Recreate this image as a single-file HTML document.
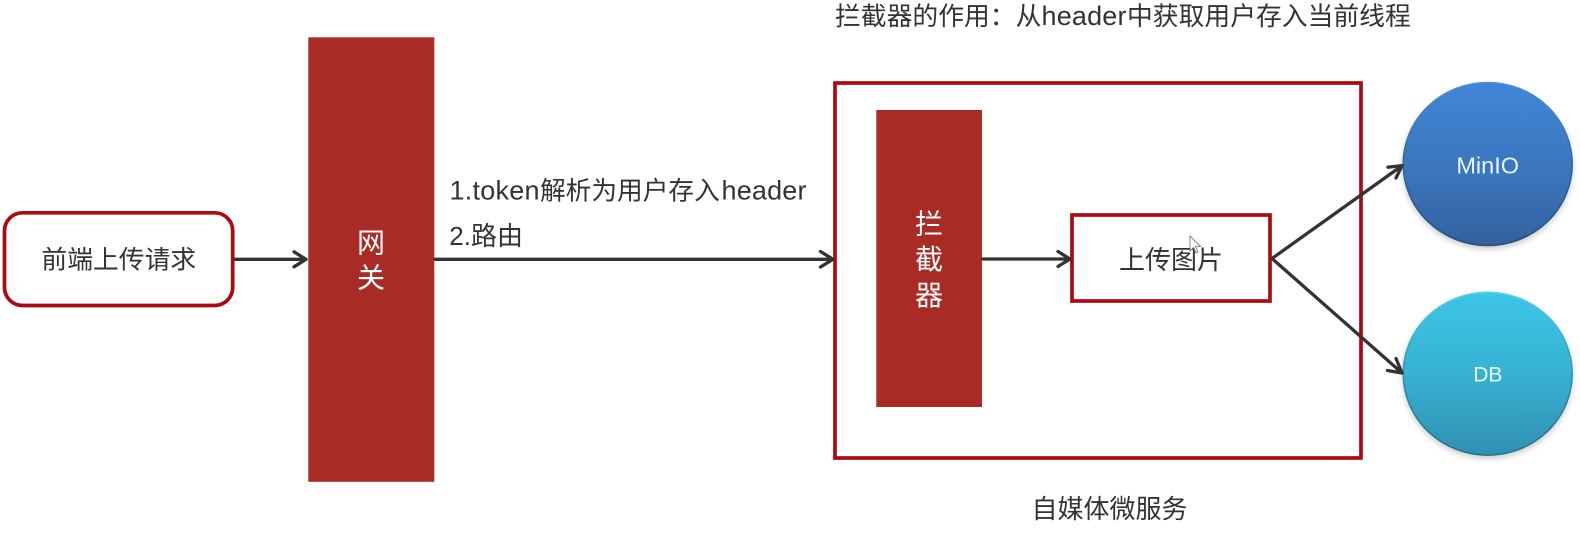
<!DOCTYPE html>
<html><head><meta charset="utf-8">
<style>
html,body{margin:0;padding:0;background:#fff;width:1580px;height:533px;overflow:hidden}
text{font-family:"Liberation Sans","Noto Sans CJK SC",sans-serif;fill:#333}
.w{fill:#fff}
</style></head>
<body>
<svg width="1580" height="533" viewBox="0 0 1580 533" xmlns="http://www.w3.org/2000/svg" style="display:block">
<defs>
<linearGradient id="b" x1="0" y1="0" x2="0" y2="1"><stop offset="0" stop-color="#4186d8"/><stop offset="0.5" stop-color="#3b77bf"/><stop offset="1" stop-color="#33619f"/></linearGradient>
<linearGradient id="c" x1="0" y1="0" x2="0" y2="1"><stop offset="0" stop-color="#3cc5e6"/><stop offset="0.5" stop-color="#37b2d2"/><stop offset="1" stop-color="#2f90b2"/></linearGradient>
<linearGradient id="be" x1="0" y1="0" x2="0" y2="1"><stop offset="0" stop-color="#4f8fd6"/><stop offset="0.5" stop-color="#2f5f9c"/><stop offset="1" stop-color="#254d80"/></linearGradient>
<linearGradient id="ce" x1="0" y1="0" x2="0" y2="1"><stop offset="0" stop-color="#55d4ec"/><stop offset="0.5" stop-color="#2a8fae"/><stop offset="1" stop-color="#24708c"/></linearGradient>
<filter id="s" x="-20%" y="-20%" width="140%" height="140%"><feDropShadow dx="0" dy="3" stdDeviation="3" flood-color="#000" flood-opacity="0.2"/></filter>
</defs>

<rect x="4.500" y="212.800" width="228.200" height="92.700" rx="18" fill="#fff" stroke="#ab0a12" stroke-width="3.700"/>
<text x="118.800" y="268.500" font-size="25.800" text-anchor="middle">前端上传请求</text>

<rect x="308.300" y="37.300" width="126" height="444.500" fill="#a92b25"/>
<text x="371" y="252.500" font-size="28" text-anchor="middle" class="w">网</text>
<text x="371" y="287.500" font-size="28" text-anchor="middle" class="w">关</text>

<text x="449.500" y="199.500" font-size="27" textLength="90" lengthAdjust="spacing">1.token</text>
<text x="540" y="199.500" font-size="25.700">解析为用户存入</text>
<text x="721.500" y="199.500" font-size="27" textLength="85" lengthAdjust="spacing">header</text>
<text x="449.300" y="245" font-size="26">2.路由</text>

<text x="835" y="25" font-size="25.800">拦截器的作用：从</text>
<text x="1041.500" y="25" font-size="27" textLength="85" lengthAdjust="spacing">header</text>
<text x="1127" y="25" font-size="25.800">中获取用户存入当前线程</text>

<rect x="835" y="83" width="526" height="375" fill="none" stroke="#ab0a12" stroke-width="3.700"/>
<rect x="876.300" y="110" width="105.700" height="297" fill="#a92b25"/>
<text x="929" y="233.500" font-size="28" text-anchor="middle" class="w">拦</text>
<text x="929" y="269" font-size="28" text-anchor="middle" class="w">截</text>
<text x="929" y="305" font-size="28" text-anchor="middle" class="w">器</text>

<rect x="1072" y="215" width="198" height="86" fill="#fff" stroke="#ab0a12" stroke-width="3.700"/>
<text x="1171" y="269" font-size="26" text-anchor="middle">上传图片</text>

<ellipse cx="1487.700" cy="164" rx="84.500" ry="81.500" fill="url(#b)" stroke="url(#be)" stroke-width="1.500" filter="url(#s)"/>
<ellipse cx="1487.700" cy="373.700" rx="84.500" ry="81.500" fill="url(#c)" stroke="url(#ce)" stroke-width="1.500" filter="url(#s)"/>
<text x="1487.700" y="173.300" font-size="23.500" text-anchor="middle" style="fill:#e8f6ff">MinIO</text>
<text x="1487.800" y="381.700" font-size="21" text-anchor="middle" style="fill:#e8f9ff">DB</text>

<g fill="none" stroke="#333" stroke-width="3.300" stroke-linecap="round" stroke-linejoin="round">
<path d="M235 259.300H306M294 251.800L306 259.300L294 266.800"/>
<path d="M435 259.300H833M820.500 251.500L833 259.300L820.500 267"/>
<path d="M983 259H1070M1058 251.500L1070 259L1058 266.500"/>
<path d="M1272 258.500L1402 165.700M1388 167.200L1402 165.700L1396 178"/>
<path d="M1272 258.500L1402 373M1396 358.500L1402 373L1387.500 370.500"/>
</g>

<path d="M1190 236v15l3.500-3.500 2.500 5.500 2-1-2.500-5.500h5z" fill="#fff" stroke="#666" stroke-width="0.800"/>
<text x="1109.500" y="518" font-size="26" text-anchor="middle">自媒体微服务</text>
</svg>
</body></html>
